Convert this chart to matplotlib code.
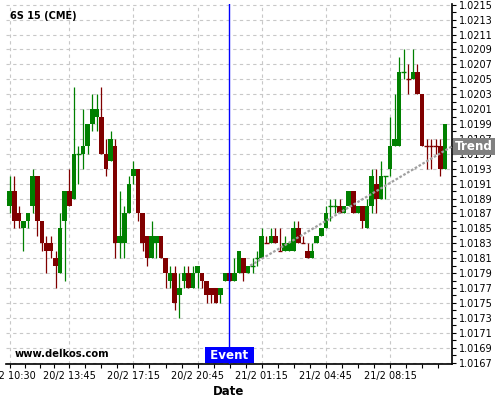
import numpy as np
import matplotlib
matplotlib.use('Agg')
import matplotlib.pyplot as plt
import matplotlib.transforms as mtransforms

# 15 minute candles, 6S (CME)
opens = [1.0188, 1.0190, 1.0187, 1.0185, 1.0186, 1.0188, 1.0192, 1.0186, 1.0183, 1.0183,
         1.0181, 1.0179, 1.0186, 1.0190, 1.0189, 1.0195, 1.0195, 1.0196, 1.0199, 1.0200,
         1.0200, 1.0195, 1.0194, 1.0196, 1.0183, 1.0183, 1.0187, 1.0192, 1.0193, 1.0187,
         1.0184, 1.0181, 1.0183, 1.0184, 1.0181, 1.0178, 1.0179, 1.0176, 1.0178, 1.0179,
         1.0177, 1.0179, 1.0179, 1.0178, 1.0177, 1.0177, 1.0176, 1.0178, 1.0179, 1.0178,
         1.0179, 1.0181, 1.0179, 1.0180, 1.0181, 1.0181, 1.0183, 1.0183, 1.0184, 1.0182,
         1.0182, 1.0182, 1.0182, 1.0185, 1.0183, 1.0182, 1.0181, 1.0183, 1.0184, 1.0185,
         1.0188, 1.0188, 1.0188, 1.0187, 1.0188, 1.0190, 1.0187, 1.0188, 1.0185, 1.0188,
         1.0191, 1.0189, 1.0192, 1.0193, 1.0196, 1.0196, 1.0206, 1.0205, 1.0205, 1.0206,
         1.0203, 1.0196, 1.0196, 1.0196, 1.0196, 1.0193]
highs = [1.0192, 1.0192, 1.0188, 1.0186, 1.0187, 1.0193, 1.0192, 1.0186, 1.0184, 1.0184,
         1.0182, 1.0187, 1.0190, 1.0193, 1.0204, 1.0196, 1.0201, 1.0199, 1.0203, 1.0203,
         1.0204, 1.0197, 1.0198, 1.0197, 1.0190, 1.0188, 1.0192, 1.0194, 1.0193, 1.0187,
         1.0184, 1.0186, 1.0184, 1.0184, 1.0181, 1.0180, 1.0180, 1.0179, 1.0180, 1.0180,
         1.0180, 1.0180, 1.0179, 1.0178, 1.0177, 1.0177, 1.0177, 1.0179, 1.0179, 1.0181,
         1.0182, 1.0181, 1.0180, 1.0181, 1.0182, 1.0185, 1.0184, 1.0185, 1.0185, 1.0185,
         1.0184, 1.0183, 1.0186, 1.0186, 1.0184, 1.0183, 1.0183, 1.0184, 1.0185, 1.0188,
         1.0189, 1.0189, 1.0189, 1.0188, 1.0190, 1.0190, 1.0188, 1.0188, 1.0189, 1.0193,
         1.0193, 1.0194, 1.0192, 1.0200, 1.0203, 1.0208, 1.0209, 1.0207, 1.0209, 1.0207,
         1.0203, 1.0197, 1.0197, 1.0197, 1.0197, 1.0199]
lows = [1.0187, 1.0185, 1.0185, 1.0182, 1.0185, 1.0187, 1.0184, 1.0182, 1.0179, 1.0181,
        1.0177, 1.0179, 1.0178, 1.0188, 1.0189, 1.0191, 1.0193, 1.0195, 1.0198, 1.0198,
        1.0195, 1.0192, 1.0194, 1.0181, 1.0181, 1.0181, 1.0187, 1.0191, 1.0186, 1.0182,
        1.0180, 1.0181, 1.0181, 1.0181, 1.0177, 1.0177, 1.0174, 1.0173, 1.0177, 1.0177,
        1.0177, 1.0177, 1.0177, 1.0175, 1.0175, 1.0175, 1.0175, 1.0178, 1.0178, 1.0178,
        1.0179, 1.0178, 1.0179, 1.0179, 1.0180, 1.0181, 1.0183, 1.0183, 1.0183, 1.0182,
        1.0182, 1.0182, 1.0182, 1.0183, 1.0183, 1.0181, 1.0181, 1.0183, 1.0184, 1.0185,
        1.0186, 1.0187, 1.0187, 1.0187, 1.0188, 1.0187, 1.0187, 1.0185, 1.0185, 1.0187,
        1.0187, 1.0189, 1.0189, 1.0192, 1.0196, 1.0196, 1.0205, 1.0203, 1.0205, 1.0203,
        1.0196, 1.0193, 1.0193, 1.0195, 1.0192, 1.0193]
closes = [1.0190, 1.0186, 1.0186, 1.0186, 1.0187, 1.0192, 1.0186, 1.0183, 1.0182, 1.0182,
          1.0180, 1.0185, 1.0190, 1.0188, 1.0195, 1.0195, 1.0196, 1.0199, 1.0201, 1.0201,
          1.0195, 1.0193, 1.0197, 1.0183, 1.0184, 1.0187, 1.0191, 1.0193, 1.0187, 1.0183,
          1.0181, 1.0184, 1.0184, 1.0181, 1.0179, 1.0179, 1.0175, 1.0177, 1.0179, 1.0177,
          1.0179, 1.0180, 1.0178, 1.0176, 1.0176, 1.0175, 1.0177, 1.0179, 1.0178, 1.0179,
          1.0182, 1.0179, 1.0180, 1.0180, 1.0181, 1.0184, 1.0183, 1.0184, 1.0183, 1.0182,
          1.0183, 1.0183, 1.0185, 1.0183, 1.0183, 1.0181, 1.0182, 1.0184, 1.0185, 1.0187,
          1.0188, 1.0188, 1.0187, 1.0188, 1.0190, 1.0187, 1.0188, 1.0186, 1.0188, 1.0192,
          1.0189, 1.0192, 1.0192, 1.0196, 1.0197, 1.0206, 1.0206, 1.0205, 1.0206, 1.0203,
          1.0196, 1.0196, 1.0196, 1.0196, 1.0193, 1.0199]
bullish = [1, 0, 0, 1, 1, 1, 0, 0, 0, 0, 0, 1, 1, 0, 1, 1, 1, 1, 1, 1,
           0, 0, 1, 0, 1, 1, 1, 1, 0, 0, 0, 1, 1, 0, 0, 1, 0, 1, 1, 0,
           1, 1, 0, 0, 0, 0, 1, 1, 0, 1, 1, 0, 1, 1, 1, 1, 0, 1, 0, 0,
           1, 1, 1, 0, 0, 0, 1, 1, 1, 1, 1, 1, 0, 1, 1, 0, 1, 0, 1, 1,
           0, 1, 1, 1, 1, 1, 1, 0, 1, 0, 0, 0, 0, 0, 0, 1]

tick_pos = [0, 13, 27, 41, 55, 69, 83]
tick_labels = ['20/2 10:30', '20/2 13:45', '20/2 17:15', '20/2 20:45',
               '21/2 01:15', '21/2 04:45', '21/2 08:15']
event_x = 47.9
trend_x = [52.5, 96.54]
trend_y = [1.01800, 1.01960]

fig = plt.figure(figsize=(5, 4), dpi=100)
ax = fig.add_axes([6 / 500, 36 / 400, 446 / 500, 360 / 400])

idx = np.arange(len(opens))
o = np.array(opens)
c = np.array(closes)
cols = ['#008000' if b else '#800000' for b in bullish]

ax.vlines(idx, lows, highs, colors=cols, linewidth=0.9, zorder=3)
body_h = np.abs(c - o)
body_b = np.minimum(o, c)
ax.bar(idx, body_h, width=1.0, bottom=body_b, color=cols, linewidth=0, zorder=4)
doji = body_h < 1e-6
ax.hlines(o[doji], idx[doji] - 0.5, idx[doji] + 0.5,
          colors=[cols[i] for i in idx[doji]], linewidth=1.0, zorder=4)

# trend line
ax.plot(trend_x, trend_y, color='#a0a0a0', linewidth=1.6,
        linestyle=(0, (1.2, 0.8)), zorder=5, solid_capstyle='butt')

# event line
ax.axvline(event_x, color='#0000ff', linewidth=1.0, zorder=6)
trans = mtransforms.blended_transform_factory(ax.transData, ax.transAxes)
ax.text(event_x, 0.006, ' Event ', transform=trans, ha='center', va='bottom',
        color='white', fontsize=8.6, fontweight='bold', zorder=7,
        bbox=dict(boxstyle='square,pad=0.12', fc='#0000ff', ec='none'))

trans2 = mtransforms.blended_transform_factory(ax.transAxes, ax.transData)
ax.text(1.006, trend_y[1], 'Trend', transform=trans2, ha='left', va='center',
        color='white', fontsize=8.6, fontweight='bold', clip_on=False,
        bbox=dict(boxstyle='square,pad=0.18', fc='#808080', ec='none'))

ax.set_xlim(-0.82, 96.54)
ax.set_ylim(1.01668, 1.02151)

ax.set_xticks(tick_pos)
ax.set_xticklabels(tick_labels, fontsize=7)
minor = []
for a, b in zip(tick_pos[:-1], tick_pos[1:]):
    minor += [a + (b - a) * k / 4 for k in (1, 2, 3)]
minor += [83 + 3.5, 83 + 7.0, 83 + 10.5]
ax.set_xticks(minor, minor=True)

yt = np.arange(1.0167, 1.02151, 0.0002)
ax.set_yticks(yt)
ax.set_yticklabels(['%.4f' % v for v in yt], fontsize=7)
ax.set_yticks(np.arange(1.0168, 1.0215, 0.0002), minor=True)
ax.yaxis.tick_right()
ax.tick_params(axis='both', which='both', length=3, width=0.8, direction='out', pad=2)

ax.grid(True, which='major', color='#c8c8c8', linestyle=(0, (3, 3)), linewidth=0.8)
ax.set_axisbelow(True)

for s in ['top', 'left']:
    ax.spines[s].set_visible(False)
ax.spines['bottom'].set_linewidth(1.2)
ax.spines['right'].set_linewidth(1.2)

ax.set_xlabel('Date', fontsize=8.5, fontweight='bold', labelpad=3)

fig.text(10 / 500, 1 - 16 / 400, '6S 15 (CME)', fontsize=7, fontweight='bold', va='center')
fig.text(15 / 500, 1 - 354 / 400, 'www.delkos.com', fontsize=7.2, fontweight='bold', va='center')

fig.savefig('out.png', dpi=100)
